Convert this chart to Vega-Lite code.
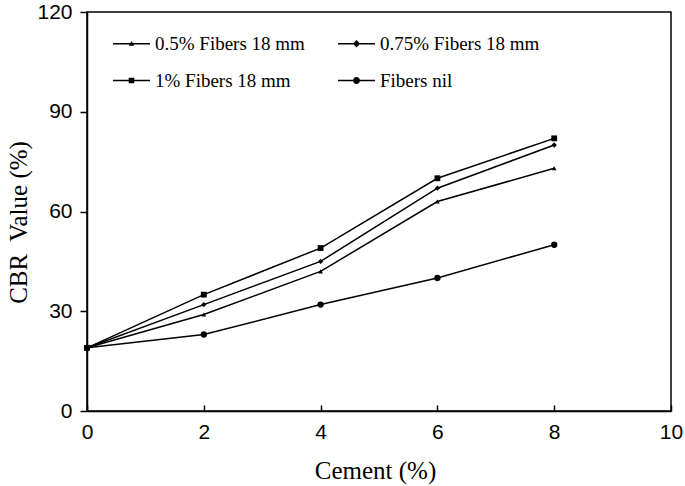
{
  "$schema": "https://vega.github.io/schema/vega-lite/v6.json",
  "autosize": "none",
  "width": 584,
  "height": 399,
  "padding": {"left": 87, "top": 12, "right": 14, "bottom": 75},
  "background": "white",
  "config": {
    "view": {"stroke": "black", "strokeWidth": 1.5},
    "axis": {
      "grid": false,
      "labelFlush": false,
      "domainColor": "black",
      "domainWidth": 1.5,
      "tickColor": "black",
      "tickWidth": 1.5,
      "labelFont": "Liberation Sans",
      "labelFontSize": 21,
      "labelColor": "black",
      "titleFont": "Liberation Serif",
      "titleFontSize": 25,
      "titleFontWeight": "normal",
      "titleColor": "black"
    },
    "legend": {
      "labelFont": "Liberation Serif",
      "labelFontSize": 19,
      "labelColor": "black",
      "labelOffset": 5,
      "symbolSize": 1369,
      "symbolOpacity": 1,
      "symbolStrokeWidth": 0,
      "columnPadding": 33,
      "rowPadding": 8
    }
  },
  "data": {
    "values": [
      {"cement": 0, "cbr": 19, "series": "0.5% Fibers 18 mm"},
      {"cement": 2, "cbr": 29, "series": "0.5% Fibers 18 mm"},
      {"cement": 4, "cbr": 42, "series": "0.5% Fibers 18 mm"},
      {"cement": 6, "cbr": 63, "series": "0.5% Fibers 18 mm"},
      {"cement": 8, "cbr": 73, "series": "0.5% Fibers 18 mm"},
      {"cement": 0, "cbr": 19, "series": "0.75% Fibers 18 mm"},
      {"cement": 2, "cbr": 32, "series": "0.75% Fibers 18 mm"},
      {"cement": 4, "cbr": 45, "series": "0.75% Fibers 18 mm"},
      {"cement": 6, "cbr": 67, "series": "0.75% Fibers 18 mm"},
      {"cement": 8, "cbr": 80, "series": "0.75% Fibers 18 mm"},
      {"cement": 0, "cbr": 19, "series": "1% Fibers 18 mm"},
      {"cement": 2, "cbr": 35, "series": "1% Fibers 18 mm"},
      {"cement": 4, "cbr": 49, "series": "1% Fibers 18 mm"},
      {"cement": 6, "cbr": 70, "series": "1% Fibers 18 mm"},
      {"cement": 8, "cbr": 82, "series": "1% Fibers 18 mm"},
      {"cement": 0, "cbr": 19, "series": "Fibers nil"},
      {"cement": 2, "cbr": 23, "series": "Fibers nil"},
      {"cement": 4, "cbr": 32, "series": "Fibers nil"},
      {"cement": 6, "cbr": 40, "series": "Fibers nil"},
      {"cement": 8, "cbr": 50, "series": "Fibers nil"}
    ]
  },
  "encoding": {
    "x": {
      "field": "cement", "type": "quantitative",
      "scale": {"domain": [0, 10], "nice": false},
      "axis": {"values": [0, 2, 4, 6, 8, 10], "tickSize": -6, "labelPadding": 16, "title": "Cement (%)", "titlePadding": 16, "titleX": 288}
    },
    "y": {
      "field": "cbr", "type": "quantitative",
      "scale": {"domain": [0, 120], "nice": false},
      "axis": {"values": [0, 30, 60, 90, 120], "tickSize": 7, "labelPadding": 8, "title": "CBR\u00a0 Value (%)", "titlePadding": 5, "titleY": 210}
    }
  },
  "layer": [
    {
      "mark": {"type": "line", "color": "black", "strokeWidth": 1.5},
      "encoding": {"detail": {"field": "series"}}
    },
    {
      "mark": {"type": "point", "filled": true, "color": "black", "opacity": 1},
      "encoding": {
        "shape": {
          "field": "series", "type": "nominal",
          "scale": {"domain": ["0.5% Fibers 18 mm", "0.75% Fibers 18 mm", "1% Fibers 18 mm", "Fibers nil"], "range": ["triangle-up", "diamond", "square", "circle"]},
          "legend": null
        },
        "size": {
          "field": "series", "type": "nominal",
          "scale": {"domain": ["0.5% Fibers 18 mm", "0.75% Fibers 18 mm", "1% Fibers 18 mm", "Fibers nil"], "range": [22, 40, 32, 50]},
          "legend": null
        }
      }
    },
    {
      "transform": [{"filter": "datum.cement > 100"}],
      "mark": {"type": "point", "filled": true, "color": "black"},
      "encoding": {
        "shape": {
          "field": "series", "type": "nominal",
          "scale": {
            "domain": ["0.5% Fibers 18 mm", "0.75% Fibers 18 mm", "1% Fibers 18 mm", "Fibers nil"],
            "range": [
              "M-1,-0.04H1V0.04H-1ZM0,-0.15L0.15,0.11L-0.15,0.11Z",
              "M-1,-0.04H1V0.04H-1ZM0,-0.2L0.2,0L0,0.2L-0.2,0Z",
              "M-1,-0.04H1V0.04H-1ZM-0.15,-0.15H0.15V0.15H-0.15Z",
              "M-1,-0.04H1V0.04H-1ZM0.19,0A0.19,0.19,0,1,1,-0.19,0A0.19,0.19,0,1,1,0.19,0Z"
            ]
          },
          "legend": {
            "title": null,
            "orient": "none",
            "legendX": 26,
            "legendY": 13,
            "direction": "horizontal",
            "columns": 2,
            "symbolFillColor": "black"
          }
        }
      }
    }
  ],
  "resolve": {"scale": {"shape": "independent"}, "legend": {"shape": "independent"}}
}
